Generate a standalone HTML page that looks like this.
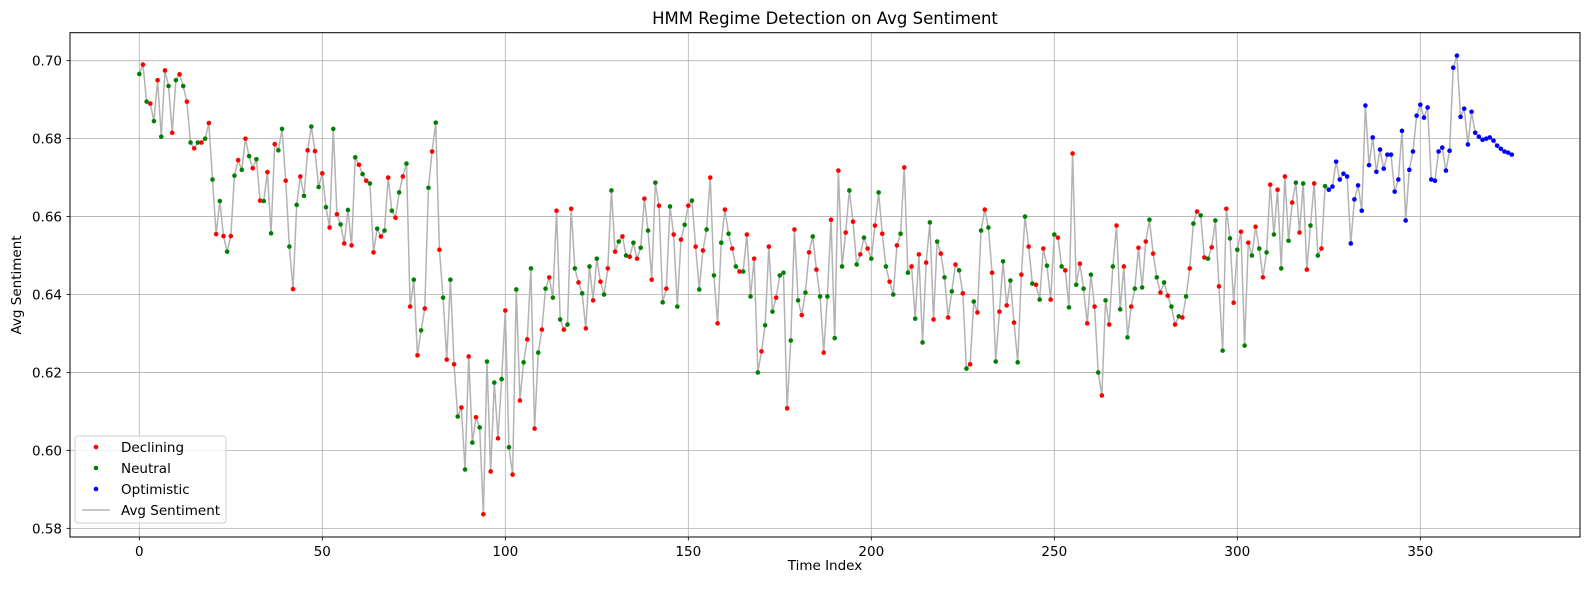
<!DOCTYPE html>
<html><head><meta charset="utf-8">
<style>
html,body{margin:0;padding:0;background:#fff;}
svg{display:block;font-family:"DejaVu Sans","Liberation Sans",sans-serif;}
</style></head>
<body>
<svg id="chart" width="1589" height="590" viewBox="0 0 1589 590" xmlns="http://www.w3.org/2000/svg">
<rect width="1589" height="590" fill="#fff"/>
<g id="grid"></g>
<g id="series"></g>
<rect x="70" y="32.7" width="1510" height="504.3" fill="none" stroke="#000" stroke-width="1"/>
<g id="axes"></g>
<text x="825" y="24" text-anchor="middle" font-size="16.5">HMM Regime Detection on Avg Sentiment</text>
<text x="825" y="570" text-anchor="middle" font-size="13.5">Time Index</text>
<text transform="translate(21,285) rotate(-90)" text-anchor="middle" font-size="13.5">Avg Sentiment</text>
<g>
<rect x="75" y="436" width="151" height="87" rx="3" fill="#fff" fill-opacity="0.8" stroke="#d0d0d0"/>
<circle cx="96" cy="447" r="2.3" fill="#ff0000"/>
<text x="121" y="452" font-size="13.5">Declining</text>
<circle cx="96" cy="468" r="2.3" fill="#008000"/>
<text x="121" y="473" font-size="13.5">Neutral</text>
<circle cx="96" cy="489" r="2.3" fill="#0000ff"/>
<text x="121" y="494" font-size="13.5">Optimistic</text>
<line x1="82" y1="510" x2="110" y2="510" stroke="#b3b3b3" stroke-width="1.5"/>
<text x="121" y="515" font-size="13.5">Avg Sentiment</text>
</g>
</svg>
<script>
const values = [
0.6966,0.699,0.6895,0.689,0.6845,0.695,0.6805,0.6975,0.6935,0.6815,
0.695,0.6965,0.6935,0.6895,0.679,0.6775,0.679,0.679,0.680,0.684,
0.6695,0.6555,0.664,0.655,0.651,0.655,0.6705,0.6745,0.672,0.680,
0.6755,0.6724,0.6747,0.6641,0.664,0.6714,0.6557,0.6786,0.677,0.6825,
0.6692,0.6523,0.6414,0.663,0.6703,0.6653,0.677,0.6831,0.6768,0.6676,
0.6711,0.6624,0.6572,0.6825,0.6606,0.658,0.6531,0.6617,0.6526,0.6752,
0.6733,0.6709,0.6692,0.6685,0.6508,0.6569,0.6549,0.6564,0.67,0.6615,
0.6597,0.6662,0.6703,0.6736,0.6369,0.6438,0.6244,0.6308,0.6364,0.6674,
0.6767,0.6841,0.6515,0.6392,0.6233,0.6438,0.6221,0.6087,0.611,0.5951,
0.6241,0.602,0.6085,0.6059,0.5836,0.6228,0.5946,0.6174,0.6031,0.6183,
0.6359,0.6008,0.5938,0.6413,0.6128,0.6226,0.6285,0.6467,0.6056,0.6251,
0.631,0.6415,0.6444,0.6392,0.6615,0.6336,0.631,0.6323,0.662,0.6467,
0.6431,0.6403,0.6313,0.6472,0.6385,0.6492,0.6433,0.64,0.6467,0.6667,
0.651,0.6536,0.6549,0.65,0.6497,0.6533,0.6492,0.652,0.6646,0.6564,
0.6438,0.6687,0.6628,0.638,0.6415,0.6626,0.6554,0.6369,0.6541,0.6579,
0.6628,0.6641,0.6523,0.6413,0.6513,0.6567,0.67,0.6449,0.6326,0.6533,
0.6618,0.6556,0.6518,0.6472,0.6459,0.6459,0.6554,0.6395,0.6492,0.62,
0.6254,0.6321,0.6523,0.6356,0.6392,0.6449,0.6456,0.6108,0.6282,0.6567,
0.6385,0.6347,0.6405,0.6508,0.6549,0.6464,0.6395,0.6251,0.6395,0.6592,
0.6288,0.6718,0.6472,0.6559,0.6667,0.6587,0.6477,0.6503,0.6546,0.6518,
0.6492,0.6577,0.6662,0.6556,0.6472,0.6433,0.64,0.6526,0.6556,0.6726,
0.6456,0.6472,0.6338,0.6503,0.6277,0.6482,0.6585,0.6336,0.6536,0.6505,
0.6444,0.6341,0.6408,0.6477,0.6462,0.6403,0.621,0.6221,0.6382,0.6354,
0.6564,0.6618,0.6572,0.6456,0.6228,0.6356,0.6485,0.6372,0.6436,0.6328,
0.6226,0.6451,0.66,0.6523,0.6428,0.6425,0.6387,0.6518,0.6474,0.6387,
0.6554,0.6546,0.6472,0.6462,0.6367,0.6762,0.6425,0.6479,0.6415,0.6326,
0.6451,0.6369,0.62,0.6141,0.6385,0.6323,0.6472,0.6577,0.6362,0.6472,
0.629,0.6369,0.6415,0.652,0.6418,0.6536,0.6592,0.6505,0.6444,0.6405,
0.6431,0.6397,0.6369,0.6323,0.6344,0.6341,0.6395,0.6467,0.6582,0.6613,
0.6603,0.6495,0.6492,0.6521,0.659,0.6421,0.6256,0.662,0.6544,0.6379,
0.6515,0.6561,0.6269,0.6533,0.65,0.6574,0.6518,0.6444,0.6508,0.6682,
0.6554,0.6669,0.6467,0.6703,0.6538,0.6636,0.6687,0.6559,0.6685,0.6464,
0.6577,0.6685,0.65,0.6518,0.6678,0.6669,0.6677,0.6741,0.6695,0.671,
0.6703,0.6531,0.6644,0.668,0.6615,0.6885,0.6732,0.6803,0.6715,0.6772,
0.6723,0.6759,0.6759,0.6664,0.6695,0.682,0.659,0.672,0.6767,0.6859,
0.6887,0.6854,0.688,0.6695,0.6692,0.6767,0.6777,0.6718,0.6769,0.6982,
0.7013,0.6856,0.6877,0.6785,0.6869,0.6815,0.6805,0.6797,0.68,0.6803,
0.6795,0.6782,0.6774,0.6767,0.6764,0.6759
];
// regime labels per index: G=Neutral, R=Declining, B=Optimistic
const regimeSeg1 = "GR".repeat(19) + "G";      // idx 0-38
const regimeSeg2 = "GR".repeat(68) + "G";      // idx 39-175
const regimeSeg3 = "GR".repeat(74) + "G";      // idx 176-324
const regimeSeg4 = "B".repeat(51);             // idx 325-375
const regimes = (regimeSeg1 + regimeSeg2 + regimeSeg3 + regimeSeg4).split("");
const xTicks = [0,50,100,150,200,250,300,350];
const yTicks = [0.58,0.60,0.62,0.64,0.66,0.68,0.70];
const yTickLabels = ["0.58","0.60","0.62","0.64","0.66","0.68","0.70"];
const regimeColors = {R:"#ff0000", G:"#008000", B:"#0000ff"};

const X0=139.3, XS=3.66, Y0=60.7, YS=3897;
function xPx(i){ return X0 + i*XS; }
function yPx(v){ return Y0 + (0.70 - v)*YS; }
const NS="http://www.w3.org/2000/svg";
function mk(tag, attrs, parent){
  const e=document.createElementNS(NS,tag);
  for(const k in attrs) e.setAttribute(k, attrs[k]);
  parent.appendChild(e); return e;
}
const grid=document.getElementById('grid'), axes=document.getElementById('axes'), series=document.getElementById('series');
xTicks.forEach(t=>{
  const x=xPx(t);
  const g=mk('line',{x1:x,y1:32.7,x2:x,y2:537,stroke:"#b0b0b0","stroke-width":0.8},grid);
  
  
  const tk=mk('line',{x1:x,y1:537,x2:x,y2:540.5,stroke:"#000","stroke-width":0.8},axes);
  
  
  const tx=mk('text',{x:x,y:556,"text-anchor":"middle","font-size":"13.5"},axes);
  tx.textContent=String(t);
  
  
});
yTicks.forEach((t,k)=>{
  const y=yPx(t);
  const g=mk('line',{x1:70,y1:y,x2:1580,y2:y,stroke:"#b0b0b0","stroke-width":0.8},grid);
  
  
  const tk=mk('line',{x1:66.5,y1:y,x2:70,y2:y,stroke:"#000","stroke-width":0.8},axes);
  
  
  const tx=mk('text',{x:62,y:y+5,"text-anchor":"end","font-size":"13.5"},axes);
  tx.textContent=yTickLabels[k];
  
  
});
const pts=values.map((v,i)=>xPx(i).toFixed(2)+","+yPx(v).toFixed(2)).join(" ");
const line=mk('polyline',{points:pts,fill:"none",stroke:"#b3b3b3","stroke-width":1.5,"stroke-linejoin":"round"},series);


values.forEach((v,i)=>{
  const c=mk('circle',{cx:xPx(i),cy:yPx(v),r:2.3,fill:regimeColors[regimes[i]||"G"]},series);
  
  
});
</script>
</body></html>
